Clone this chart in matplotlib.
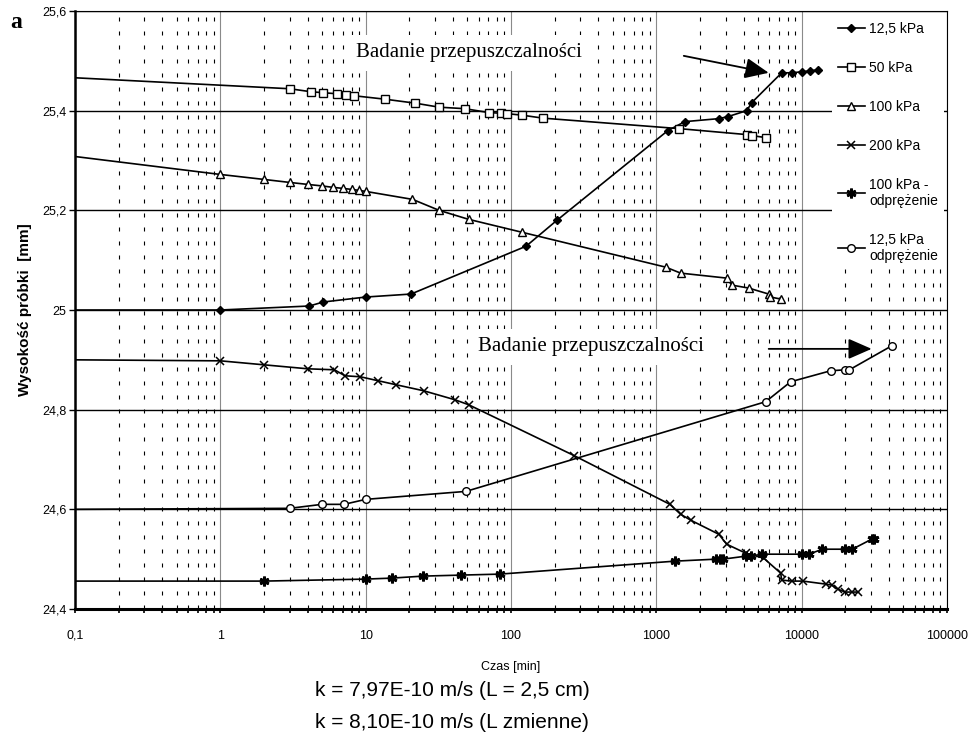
import numpy as np
import matplotlib
matplotlib.use('Agg')
import matplotlib.pyplot as plt
from matplotlib.ticker import LogLocator, FixedLocator, NullFormatter

plt.rcParams['font.family'] = ['Liberation Sans', 'DejaVu Sans']

# czas [min] i wysokość próbki [mm] dla kolejnych stopni obciążenia
t_125 = [0.1, 1, 4.1, 5.1, 10, 20.5, 127, 207, 1200, 1570, 2690, 3100, 4190, 4530,
         7290, 8540, 10000, 11500, 12900]
h_125 = [25.0, 25.0, 25.008, 25.016, 25.026, 25.032, 25.128, 25.18, 25.36, 25.378,
         25.384, 25.388, 25.40, 25.416, 25.476, 25.476, 25.478, 25.48, 25.482]

t_50 = [0.1, 3, 4.2, 5.1, 6.3, 7.3, 8.3, 13.6, 22, 32, 48, 71, 85, 94, 119, 166,
        1430, 4190, 4530, 5660]
h_50 = [25.466, 25.444, 25.438, 25.436, 25.434, 25.432, 25.430, 25.423, 25.415,
        25.407, 25.404, 25.396, 25.395, 25.394, 25.391, 25.385, 25.364, 25.352,
        25.350, 25.346]

t_100 = [0.1, 1, 2, 3, 4, 5, 6, 7, 8, 9, 10, 21, 32, 51, 119, 1160, 1470, 3050,
         3300, 4320, 5930, 6100, 7170]
h_100 = [25.308, 25.272, 25.262, 25.256, 25.252, 25.249, 25.246, 25.244, 25.242,
         25.240, 25.238, 25.222, 25.200, 25.182, 25.156, 25.086, 25.074, 25.064,
         25.050, 25.044, 25.032, 25.026, 25.022]

t_200 = [0.1, 1, 2, 4, 6.1, 7.2, 9.2, 12.2, 16.2, 25, 41, 51, 271, 1240, 1470, 1730,
         2690, 3050, 4120, 5480, 7170, 7290, 8540, 10200, 14600, 16100, 17700,
         19900, 22100, 24600]
h_200 = [24.90, 24.898, 24.89, 24.882, 24.88, 24.868, 24.866, 24.858, 24.85, 24.838,
         24.82, 24.81, 24.708, 24.61, 24.59, 24.578, 24.55, 24.53, 24.512, 24.502,
         24.472, 24.458, 24.456, 24.456, 24.45, 24.448, 24.44, 24.434, 24.434, 24.434]

t_100o = [0.1, 2, 10, 15.2, 24.8, 45, 84, 1340, 2560, 2740, 2870, 4120, 4450, 5310,
          10000, 11200, 13900, 19900, 22300, 30300, 31300]
h_100o = [24.456, 24.456, 24.46, 24.462, 24.466, 24.468, 24.47, 24.496, 24.50, 24.50,
          24.50, 24.506, 24.506, 24.51, 24.51, 24.51, 24.52, 24.52, 24.52, 24.54, 24.54]

t_125o = [0.1, 3, 5, 7.1, 10, 49, 5660, 8400, 15800, 19900, 21300, 41600]
h_125o = [24.60, 24.602, 24.61, 24.61, 24.62, 24.636, 24.816, 24.856, 24.878, 24.88,
          24.88, 24.928]

x_ticks = [0.1, 1, 10, 100, 1000, 10000, 100000]
x_labels = ['0,1', '1', '10', '100', '1000', '10000', '100000']
y_ticks = [24.4, 24.6, 24.8, 25.0, 25.2, 25.4, 25.6]
y_labels = ['24,4', '24,6', '24,8', '25', '25,2', '25,4', '25,6']

fig = plt.figure(figsize=(9.79, 7.42), dpi=100)
ax = fig.add_axes([75 / 979, 1 - 609 / 742, 872 / 979, 598 / 742])
ax.set_xscale('log')
ax.set_xlim(0.1, 100000)
ax.set_ylim(24.4, 25.6)

# siatka: dekady ciągłą linią, podziałki pośrednie przerywaną
ax.xaxis.set_major_locator(FixedLocator(x_ticks))
ax.xaxis.set_minor_locator(LogLocator(base=10, subs=np.arange(2, 10), numticks=20))
ax.xaxis.set_minor_formatter(NullFormatter())
ax.set_xticks(x_ticks)
ax.set_xticklabels(x_labels)
ax.set_yticks(y_ticks)
ax.set_yticklabels(y_labels)
ax.grid(True, which='major', axis='x', color='#8a8a8a', lw=0.8, zorder=0)
ax.grid(True, which='minor', axis='x', color='black', lw=0.8,
        linestyle=(0, (3.6, 9)), zorder=0)
ax.grid(True, which='major', axis='y', color='black', lw=1.0, zorder=0)
ax.set_axisbelow(True)

ax.tick_params(axis='x', which='both', direction='out', length=3, width=1.2,
               labelsize=9, pad=12)
ax.tick_params(axis='y', which='major', direction='out', length=4, width=1,
               labelsize=9, pad=2)
ax.spines['left'].set_linewidth(1.8)
ax.spines['bottom'].set_linewidth(2.2)
ax.spines['top'].set_linewidth(0.8)
ax.spines['right'].set_linewidth(0.8)

style = dict(color='black', lw=1.2, markevery=slice(1, None))
ax.plot(t_125, h_125, marker='D', ms=4.5, mfc='black', mec='black',
        label='12,5 kPa', **style)
ax.plot(t_50, h_50, marker='s', ms=6, mfc='white', mec='black', mew=1.0,
        label='50 kPa', **style)
ax.plot(t_100, h_100, marker='^', ms=6, mfc='white', mec='black', mew=1.0,
        label='100 kPa', **style)
ax.plot(t_200, h_200, marker='x', ms=6, mec='black', mew=1.1,
        label='200 kPa', **style)
ax.plot(t_100o, h_100o, marker=(6, 2, 0), ms=7, mec='black', mew=2.0,
        label='100 kPa -\nodprężenie', **style)
ax.plot(t_125o, h_125o, marker='o', ms=5.5, mfc='white', mec='black', mew=1.0,
        label='12,5 kPa\nodprężenie', **style)

leg = ax.legend(loc='upper left', bbox_to_anchor=(832 / 979, 1 - 16 / 742),
                bbox_transform=fig.transFigure, fontsize=10, handlelength=2.0,
                handletextpad=0.3, labelspacing=1.8, borderpad=0.4,
                borderaxespad=0, frameon=True, fancybox=False)
leg.get_frame().set_edgecolor('none')
leg.get_frame().set_facecolor('white')
leg.get_frame().set_alpha(1)

# opisy badania przepuszczalności
txt = dict(family='Liberation Serif', fontsize=15, ha='center', va='center',
           bbox=dict(facecolor='white', edgecolor='none', pad=6), zorder=5)
ax.text(51, 25.516, 'Badanie przepuszczalności', **txt)
ax.text(355, 24.926, 'Badanie przepuszczalności', **txt)
arrow = dict(arrowstyle='-|>,head_length=0.8,head_width=0.35', color='black',
             lw=1.3, mutation_scale=18, shrinkA=0, shrinkB=0)
ax.annotate('', xy=(5930, 25.476), xytext=(1545, 25.51), arrowprops=arrow,
            zorder=6)
ax.annotate('', xy=(30300, 24.922), xytext=(5930, 24.922), arrowprops=arrow,
            zorder=6)

ax.set_ylabel('Wysokość próbki  [mm]', fontsize=11, weight='bold', labelpad=10)
ax.yaxis.set_label_coords(-(75 - 32) / 872, 0.5)
ax.set_xlabel('Czas [min]', fontsize=9, labelpad=14)

fig.text(452 / 979, 1 - 691 / 742, 'k = 7,97E-10 m/s (L = 2,5 cm)', fontsize=15,
         ha='center', va='center')
fig.text(452 / 979, 1 - 722 / 742, 'k = 8,10E-10 m/s (L zmienne)', fontsize=15,
         ha='center', va='center')
fig.text(10 / 979, 1 - 22 / 742, 'a', family='Liberation Serif', fontsize=17,
         weight='bold', ha='left', va='center')

fig.savefig('out.png', dpi=100)
